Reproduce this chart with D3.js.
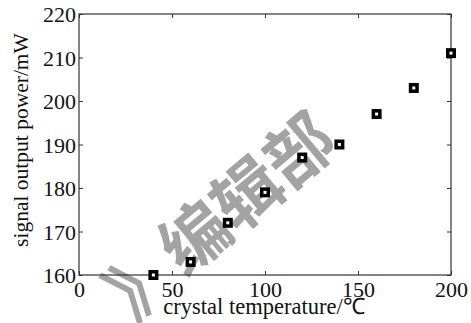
<!DOCTYPE html>
<html>
<head>
<meta charset="utf-8">
<script src="https://cdn.jsdelivr.net/npm/d3@7"></script>
<style>
  body { margin: 0; background: #fff; }
  svg text { font-family: "Liberation Serif", "Times New Roman", serif; fill: #111; }
</style>
</head>
<body>
<div id="chart"></div>
<script>
// crystal temperature (°C) vs signal output power (mW)
const temperatures = [40, 60, 80, 100, 120, 140, 160, 180, 200];
const powers = [160, 163, 172, 179, 187, 190, 197, 203, 211];
const xTicks = [0, 50, 100, 150, 200];
const yTicks = [160, 170, 180, 190, 200, 210, 220];

let margin = { top: 14, left: 79, right: 20, bottom: 48 },
  width = 471 - margin.left - margin.right,
  height = 323 - margin.top - margin.bottom;

let svg = d3.select("#chart")
  .append("svg")
    .attr("width", 471)
    .attr("height", 323);

let xScale = d3.scaleLinear().domain([0, 200]).range([0, width]);
let yScale = d3.scaleLinear().domain([160, 220]).range([height, 0]);

// watermark (gray, behind the plot)
svg.append("text")
  .attr("transform", "translate(133,322) rotate(-40)")
  .style("font-family", "'Noto Sans CJK SC', sans-serif")
  .style("fill", "#a3a3a3")
  .attr("font-size", 68)
  .attr("font-weight", "bold")
  .text("》编辑部");

let g = svg.append("g")
  .attr("transform", "translate(" + margin.left + "," + margin.top + ")");

// frame
g.append("rect")
  .attr("width", width)
  .attr("height", height)
  .attr("fill", "none")
  .attr("stroke", "#333")
  .attr("stroke-width", 1.2);

let xAxis = g.append("g")
  .attr("transform", "translate(0," + height + ")")
  .call(d3.axisBottom(xScale).tickValues(xTicks).tickSizeInner(-4).tickSizeOuter(0).tickPadding(6));

let yAxis = g.append("g")
  .call(d3.axisLeft(yScale).tickValues(yTicks).tickSizeInner(-4).tickSizeOuter(0).tickPadding(3));

// ticks on top and right too
g.append("g")
  .call(d3.axisTop(xScale).tickValues(xTicks).tickSizeInner(-4).tickSizeOuter(0).tickFormat(""));
g.append("g")
  .attr("transform", "translate(" + width + ",0)")
  .call(d3.axisRight(yScale).tickValues(yTicks).tickSizeInner(-4).tickSizeOuter(0).tickFormat(""));

g.selectAll(".domain").remove();
g.selectAll(".tick line").attr("stroke", "#333");
xAxis.selectAll("text").attr("font-size", 22).style("fill", "#111");
yAxis.selectAll("text").attr("font-size", 22).style("fill", "#111").attr("dy", "0.35em");

// axis labels
svg.append("text")
  .attr("x", 264)
  .attr("y", 314)
  .attr("text-anchor", "middle")
  .attr("font-size", 22.5)
  .text("crystal temperature/℃");

svg.append("text")
  .attr("transform", "translate(28,140) rotate(-90)")
  .attr("text-anchor", "middle")
  .attr("font-size", 21.5)
  .text("signal output power/mW");

// points
let pts = g.append("g")
  .selectAll(".pt")
  .data(temperatures.map((t, i) => [t, powers[i]]))
  .enter();

pts.append("rect")
  .attr("x", d => xScale(d[0]) - 5)
  .attr("y", d => yScale(d[1]) - 5)
  .attr("width", 10)
  .attr("height", 10)
  .attr("fill", "#000");

pts.append("rect")
  .attr("x", d => xScale(d[0]) - 1.5)
  .attr("y", d => yScale(d[1]) - 1.5)
  .attr("width", 3)
  .attr("height", 3)
  .attr("fill", "#fff");
</script>
</body>
</html>
